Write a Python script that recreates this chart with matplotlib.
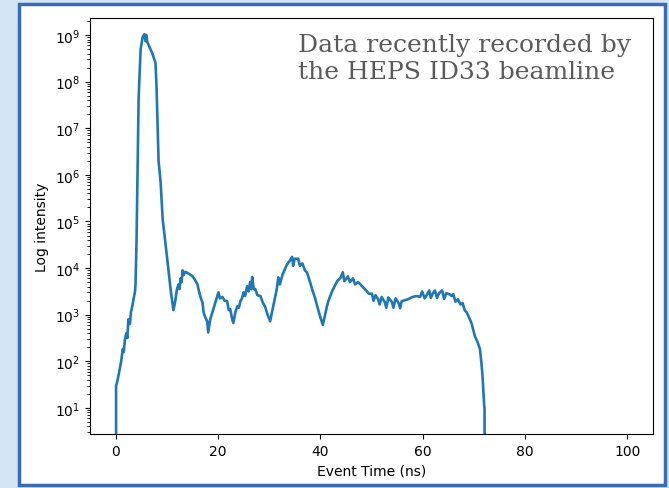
import numpy as np
import matplotlib
matplotlib.use("Agg")
import matplotlib.pyplot as plt
from matplotlib.patches import Rectangle

# event time (ns) and log10 of intensity
# -inf -> zero counts (drops to the bottom of the log axis)
time_ns = [0.0, 0.1, 0.4, 0.8, 1.1, 1.4, 1.6, 1.8, 2.1, 2.3, 2.5, 2.8, 3.0, 3.3, 3.5,
           3.8, 3.9, 4.1, 4.3, 4.5, 4.9, 5.3, 5.65, 5.85, 6.0, 6.2, 6.4, 7.2, 7.8, 8.0,
           8.2, 8.4, 8.8, 9.2, 10.1, 10.8, 11.3, 11.6, 12.0, 12.3, 12.5, 12.7, 12.9, 13.1,
           13.3, 13.6, 14.0, 15.0, 15.5, 16.0, 16.3, 16.6, 17.0, 17.2, 17.5, 17.9, 18.1,
           18.5, 19.1, 19.6, 20.1, 20.4, 20.9, 21.3, 21.8, 22.1, 22.4, 22.7, 23.0, 23.4,
           23.8, 24.1, 24.4, 24.7, 25.0, 25.3, 25.7, 26.0, 26.3, 26.5, 26.7, 27.0, 27.3,
           27.7, 28.3, 28.8, 29.2, 29.7, 30.2, 30.8, 31.2, 31.5, 31.8, 32.1, 32.6, 33.0,
           33.5, 34.0, 34.5, 34.7, 35.0, 35.7, 36.0, 36.5, 37.0, 37.4, 38.0, 38.4, 39.0,
           39.4, 40.0, 40.5, 41.3, 41.6, 42.3, 43.3, 44.0, 44.4, 44.7, 45.4, 45.8, 46.4,
           46.8, 47.4, 48.7, 49.5, 50.1, 50.4, 50.8, 51.3, 51.6, 52.0, 52.6, 52.9, 53.3,
           54.0, 54.3, 54.7, 55.3, 55.6, 55.9, 57.1, 58.0, 58.9, 59.5, 59.9, 60.4, 60.9,
           61.3, 61.6, 62.0, 62.4, 62.8, 63.2, 63.8, 64.2, 64.6, 65.2, 65.7, 66.0, 66.4,
           66.9, 67.4, 67.8, 68.2, 68.6, 69.2, 69.6, 70.2, 70.7, 71.2, 71.5, 71.7, 72.0,
           72.1, 72.2, 100.0]
log_int = [-np.inf, 1.47, 1.6, 1.83, 2.0, 2.26, 2.2, 2.45, 2.6, 2.5, 2.9, 2.8, 3.05, 3.2, 3.33,
           3.5, 3.66, 4.6, 6.12, 7.63, 8.7, 8.96, 9.02, 8.87, 9.0, 8.85, 8.8, 8.6, 8.4, 7.9,
           7.1, 6.3, 5.85, 5.05, 4.19, 3.5, 3.1, 3.25, 3.55, 3.65, 3.55, 3.78, 3.7, 3.95,
           3.85, 3.92, 3.90, 3.83, 3.75, 3.65, 3.5, 3.38, 3.25, 3.05, 2.95, 2.86, 2.62,
           2.9, 3.12, 3.3, 3.48, 3.35, 3.38, 3.30, 3.29, 3.1, 3.12, 2.95, 2.82, 3.05,
           3.18, 3.15, 3.29, 3.35, 3.48, 3.40, 3.61, 3.50, 3.70, 3.55, 3.81, 3.55, 3.55,
           3.42, 3.40, 3.25, 3.18, 3.0, 2.86, 3.18, 3.40, 3.55, 3.80, 3.65, 3.85, 3.95,
           4.08, 4.15, 4.24, 4.05, 4.20, 4.20, 4.05, 4.10, 3.95, 3.91, 3.70, 3.55, 3.35,
           3.18, 2.95, 2.78, 3.18, 3.30, 3.50, 3.72, 3.80, 3.91, 3.72, 3.82, 3.70, 3.78,
           3.65, 3.70, 3.55, 3.45, 3.45, 3.30, 3.42, 3.33, 3.22, 3.38, 3.27, 3.15, 3.37,
           3.27, 3.15, 3.35, 3.25, 3.14, 3.29, 3.33, 3.38, 3.40, 3.38, 3.50, 3.35, 3.44,
           3.52, 3.36, 3.46, 3.52, 3.36, 3.46, 3.52, 3.34, 3.46, 3.44, 3.40, 3.44, 3.28,
           3.33, 3.22, 3.25, 3.10, 3.05, 2.91, 2.80, 2.54, 2.42, 2.26, 1.95, 1.68, 1.1,
           0.97, -np.inf, -np.inf]

intensity = 10.0 ** np.array(log_int)

fig = plt.figure(figsize=(6.69, 4.89), dpi=100)
fig.patch.set_facecolor("#d3e5f4")
# white panel with the blue frame, kept behind the axes
fig.patches.append(Rectangle((0.028, 0.006), 0.966, 0.983, transform=fig.transFigure,
                             facecolor="white", edgecolor="#3a6cb4", linewidth=2.5,
                             zorder=-1))

ax = fig.add_axes([0.1345, 0.1104, 0.8415, 0.8507])
ax.plot(time_ns, intensity, color="#1f77b4", linewidth=1.9)
ax.set_yscale("log")
ax.set_xlim(-5, 105)
ax.set_ylim(10 ** 0.44, 10 ** 9.365)
ax.set_xlabel("Event Time (ns)")
ax.set_ylabel("Log intensity")

fig.text(0.445, 0.93, "Data recently recorded by\nthe HEPS ID33 beamline",
         fontsize=18, family="DejaVu Serif", color="#5a5a5a", va="top", ha="left",
         linespacing=1.2, zorder=5)

fig.savefig("out.png", dpi=100, facecolor=fig.get_facecolor())
